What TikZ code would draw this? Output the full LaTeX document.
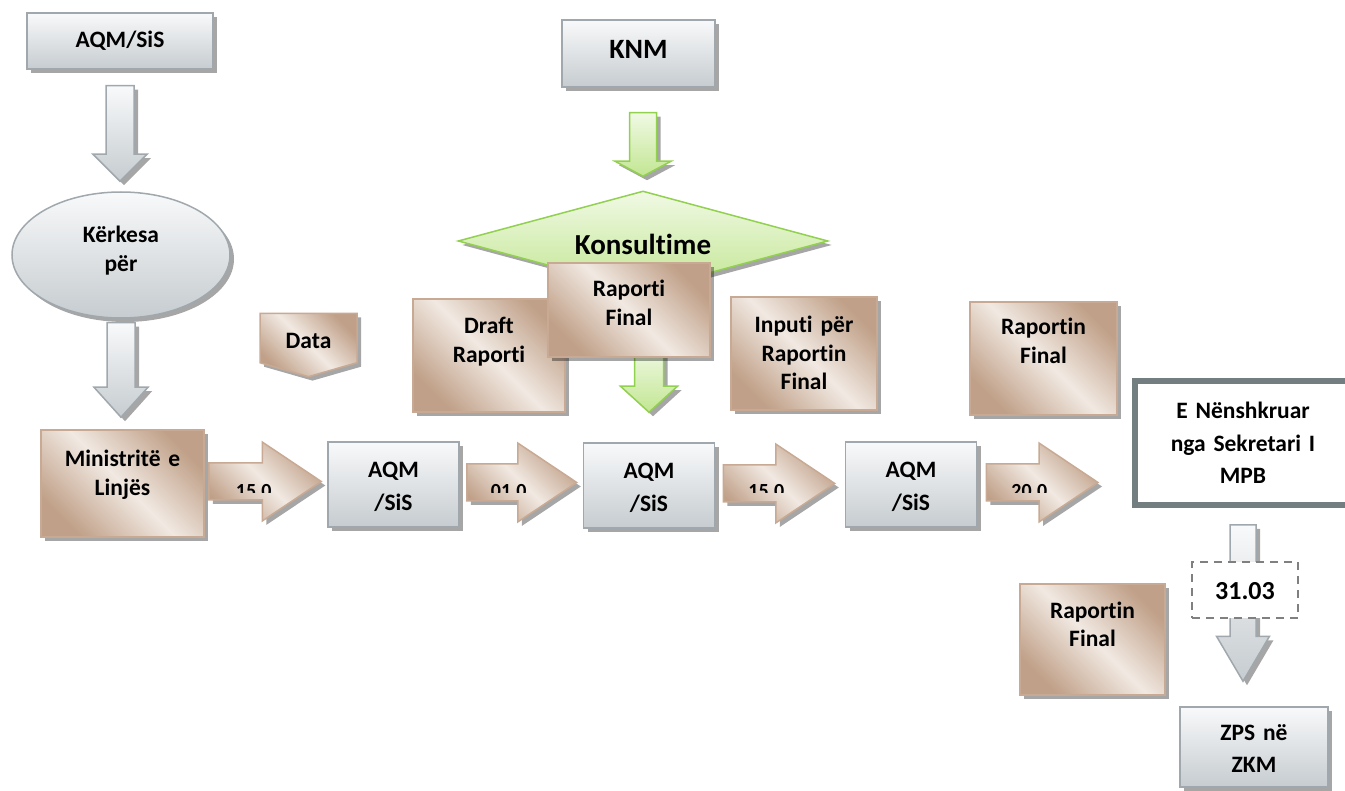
\documentclass[tikz,border=0pt]{standalone}
\usepackage{fontspec}
\setmainfont{Carlito}[Ligatures=NoCommon]
\usetikzlibrary{calc,shadows,shapes.geometric,shapes.symbols,backgrounds}
% colours
\definecolor{grayhi}{RGB}{248,249,250}
\definecolor{graylo}{RGB}{198,204,208}
\definecolor{grayline}{RGB}{160,168,173}
\definecolor{brownhi}{RGB}{241,233,226}
\definecolor{brownlo}{RGB}{192,160,136}
\definecolor{brownline}{RGB}{200,170,148}
\definecolor{greenhi}{RGB}{240,249,228}
\definecolor{greenlo}{RGB}{194,230,146}
\definecolor{greenline}{RGB}{146,208,80}
\definecolor{frameline}{RGB}{114,126,127}
\definecolor{dashline}{RGB}{128,128,128}
\tikzstyle{softshadow}=[drop shadow={shadow xshift=4pt,shadow yshift=-4pt,opacity=0.35,fill=black}]
\tikzstyle{grayfill}=[draw=grayline,line width=1.5pt,top color=grayhi,bottom color=graylo,softshadow]
\tikzstyle{brownfill}=[draw=brownline,line width=1.5pt,top color=brownlo,bottom color=brownlo,middle color=brownhi,shading angle=-45,softshadow]
\tikzstyle{greenfill}=[draw=greenline,line width=1.5pt,top color=greenhi,bottom color=greenlo,softshadow]
\tikzset{
  boxsize/.style 2 args={minimum width=#1pt,minimum height=#2pt,text width=#1pt},
  lift/.style={text height=0pt,text depth=#1pt},
  sink/.style={text height=#1pt,text depth=0pt},
  spaced/.style={font=\bfseries\fontsize{23.5}{32.5}\selectfont},
  datelbl/.style={anchor=base,font=\bfseries\fontsize{20}{22}\selectfont},
  fatright/.style={to path={let \p1=(\tikztostart),\p2=(\tikztotarget) in
    (\x1,\y1+18.5pt) -- (\x2-59pt,\y1+18.5pt) -- (\x2-59pt,\y1+39.5pt) -- (\x2,\y1)
    -- (\x2-59pt,\y1-39.5pt) -- (\x2-59pt,\y1-18.5pt) -- (\x1,\y1-18.5pt) -- cycle}},
  fatdown/.style n args={3}{to path={let \p1=(\tikztostart),\p2=(\tikztotarget) in
    (\x1-#1pt,\y1) -- (\x1-#1pt,\y2+#3pt) -- (\x1-#2pt,\y2+#3pt) -- (\x1,\y2)
    -- (\x1+#2pt,\y2+#3pt) -- (\x1+#1pt,\y2+#3pt) -- (\x1+#1pt,\y1) -- cycle}}
}

\begin{document}
\begin{tikzpicture}[x=1pt,y=-1pt,every node/.append style={font=\bfseries\fontsize{23.5}{28.5}\selectfont,inner sep=0pt,align=center}]
  \useasboundingbox (0,0) rectangle (1345,791);
  % left column
  \node[grayfill,boxsize={186}{56},sink=14] (aqm0) at (120,41) {AQM/SiS};
  \node[grayfill,ellipse,minimum width=218pt,minimum height=126pt,text width=120pt,lift=24] (ker) at (121,255) {Kërkesa\\për};
  \node[brownfill,boxsize={163}{107},lift=33] (ml) at (122.5,483.5) {Ministritë e\\Linjës};
  % KNM and consultation
  \node[grayfill,boxsize={153}{67},sink=11,font=\bfseries\fontsize{28}{30}\selectfont] (knm) at (638.5,53.5) {KNM};
  \node[greenfill,diamond,aspect=3.7,minimum width=370pt,minimum height=100pt,sink=28,font=\bfseries\fontsize{29}{31}\selectfont] (kon) at (643,241) {Konsultime};
  \node[brownfill,signal,signal to=south,signal pointer angle=148,minimum width=97pt,minimum height=56pt,sink=22] (data) at (308.5,338) {Data};
  \node[brownfill,boxsize={152}{113},lift=43] (draft) at (489,355.5) {Draft\\Raporti};
  \node[brownfill,boxsize={162}{94},lift=26] (rf) at (629,310) {Raporti\\Final};
  \node[brownfill,boxsize={146}{113},lift=41] (inp) at (804,353.5) {Inputi për\\Raportin\\Final};
  \node[brownfill,boxsize={147}{113},lift=47] (rfr) at (1043.5,358.5) {Raportin\\Final};
  % AQM row
  \foreach \n/\x/\y in {aqm1/393.5/484.5,aqm2/649/485.5,aqm3/911/484.5}
    \node[grayfill,boxsize={131}{85},spaced,lift=13] (\n) at (\x,\y) {AQM\\/SiS};
  \node[draw=frameline,line width=6pt,fill=white,boxsize={216}{124},spaced,lift=48] (nen) at (1243,443) {E Nënshkruar\\nga Sekretari I\\MPB};
  \node[brownfill,boxsize={145}{111},lift=43] (rfb) at (1092.5,639.5) {Raportin\\Final};
  \node[grayfill,boxsize={148}{80},spaced,lift=14] (zps) at (1254,747) {ZPS në\\ZKM};
  % block arrows
  \path[grayfill,fatdown={14}{27}{27}] ([yshift=-16pt]aqm0.south) to ([yshift=10pt]ker.north);
  \path[grayfill,fatdown={14}{27}{30}] ([yshift=-4pt]ker.south) to ([yshift=12pt]ml.north);
  \path[greenfill,fatdown={13.5}{28}{15}] ([yshift=-25pt]knm.south -| kon.north) to ([yshift=14pt]kon.north);
  \begin{scope}[on background layer]
    \path[greenfill,fatdown={14.5}{28.5}{26}] ([yshift=10pt]rf.south -| aqm2.north) to ([yshift=30pt]aqm2.north);
  \end{scope}
  \path[brownfill,fatright] ([xshift=4pt,yshift=2pt]ml.east) to ([xshift=-6pt]aqm1.west);
  \path[brownfill,fatright] ([xshift=7pt,yshift=2pt]aqm1.east) to ([xshift=-6pt]aqm2.west);
  \path[brownfill,fatright] ([xshift=8pt,yshift=2pt]aqm2.east) to ([xshift=-10pt]aqm3.west);
  \path[brownfill,fatright] ([xshift=9pt,yshift=2pt]aqm3.east) to ([xshift=-34pt]nen.west);
  \path[grayfill,fatdown={13}{26.5}{45}] ([yshift=-17pt]nen.south) to ([yshift=25pt]zps.north);
  \node[draw=dashline,dash pattern=on 8pt off 6pt,line width=2pt,fill=white,minimum width=106pt,minimum height=56pt,sink=18,font=\bfseries\fontsize{26}{28}\selectfont] (date) at (1245,590) {31.03};
  % dates, cut off in the arrows
  \begin{scope}
    \clip (0,0) rectangle (1345,493);
    \foreach \a/\dx/\t [count=\i] in {ml/49/15.0,aqm1/49/01.0,aqm2/51/15.0,aqm3/52/20.0}
      \node[datelbl] (lbl\i) at ([xshift=\dx pt]\a.east |- 0,497.5) {\t};
  \end{scope}
\end{tikzpicture}
\end{document}
